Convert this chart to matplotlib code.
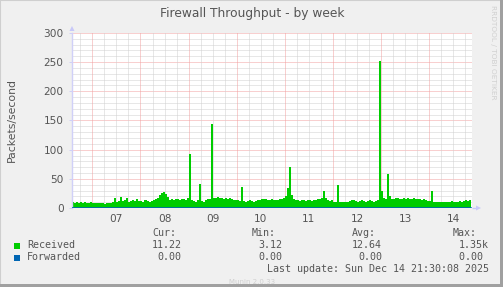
import matplotlib
matplotlib.use("Agg")
import matplotlib.pyplot as plt
import matplotlib.dates as mdates
import pandas as pd
from matplotlib.patches import Rectangle, Polygon

# -----------------------------
# DATA (packets/second, hourly from Dec 6 14:00)
# -----------------------------
received = [
    10, 9, 11, 9, 10, 9, 10, 9, 9, 10,
    # Dec 7
    9, 8, 8, 9, 8, 8, 7, 8, 8, 9, 10, 17, 11, 12, 19, 12, 13, 18, 11, 12, 14, 12, 16, 12,
    # Dec 8
    12, 11, 13, 12, 11, 12, 13, 15, 18, 22, 25, 28, 24, 19, 14, 15, 14, 16, 15, 14, 15, 16, 14, 18,
    # Dec 9
    92, 14, 12, 11, 13, 42, 12, 11, 14, 15, 16, 144, 18, 17, 19, 18, 17, 16, 18, 15, 17, 16, 14, 13,
    # Dec 10
    13, 12, 36, 12, 11, 12, 13, 12, 11, 12, 13, 14, 15, 16, 15, 14, 13, 15, 14, 13, 14, 15, 16, 18,
    # Dec 11
    20, 35, 70, 22, 15, 14, 13, 12, 14, 13, 12, 13, 14, 12, 13, 14, 16, 15, 18, 30, 17, 14, 12, 13,
    # Dec 12
    11, 10, 40, 11, 10, 11, 10, 11, 12, 14, 13, 12, 11, 12, 13, 12, 11, 12, 13, 12, 11, 12, 13, 252,
    # Dec 13
    30, 18, 15, 58, 20, 16, 15, 17, 18, 16, 15, 17, 16, 18, 15, 16, 17, 16, 15, 16, 14, 15, 13, 12,
    # Dec 14
    12, 30, 11, 10, 11, 10, 11, 10, 11, 10, 11, 12, 11, 10, 11, 12, 11, 12, 13, 12, 14, 15,
]
forwarded = [0.0] * len(received)

series_names = ["Received", "Forwarded"]
series_colors = ["#00CC00", "#0066B3"]
cur_vals = ["11.22", "0.00"]
min_vals = ["3.12", "0.00"]
avg_vals = ["12.64", "0.00"]
max_vals = ["1.35k", "0.00"]
day_labels = ["07", "08", "09", "10", "11", "12", "13", "14"]
y_ticks = [0, 50, 100, 150, 200, 250, 300]

W, H = 503, 287
TXT = "#555555"
MONO = "DejaVu Sans Mono"


def fx(x):
    return x / W


def fy(y):
    return (H - y) / H


times = pd.date_range("2025-12-06 14:00", periods=len(received), freq="h")
t_start = pd.Timestamp("2025-12-06 13:51")
t_end = pd.Timestamp("2025-12-14 21:30")

fig = plt.figure(figsize=(W / 100, H / 100), dpi=100, facecolor="#F0F0F0")

# frame around the canvas (munin style)
fig.add_artist(Rectangle((0, 0), 1, 1, transform=fig.transFigure, fill=False,
                         edgecolor="#CFCFCF", lw=1.5))
fig.add_artist(Rectangle((fx(500), 0), fx(3), 1, transform=fig.transFigure,
                         color="#A0A0A0", lw=0))
fig.add_artist(Rectangle((0, 0), 1, 3 / H, transform=fig.transFigure,
                         color="#A0A0A0", lw=0))

ax = fig.add_axes([fx(72), fy(208), fx(472.4 - 72), 175 / H])
ax.set_facecolor("white")

# -----------------------------
# GRID
# -----------------------------
for v in range(0, 301, 10):
    if v % 50 == 0:
        ax.axhline(v, color="#F2A0A0", lw=0.72, ls=(0, (1, 1)), zorder=1)
    else:
        ax.axhline(v, color="#D0D0D0", lw=0.72, ls=(0, (1, 1)), zorder=1)
for t in pd.date_range("2025-12-06 18:00", t_end, freq="6h"):
    if t.hour == 0:
        ax.axvline(t, color="#F2A0A0", lw=0.72, ls=(0, (1, 1)), zorder=1)
    else:
        ax.axvline(t, color="#D0D0D0", lw=0.72, ls=(0, (1, 1)), zorder=1)

# -----------------------------
# SERIES
# -----------------------------
ax.fill_between(times, received, step="post", color=series_colors[0], lw=0, zorder=2)
ax.step(times, forwarded, where="post", color=series_colors[1], lw=1.2, zorder=3)

ax.set_xlim(t_start, t_end)
ax.set_ylim(0, 300)

for s in ["top", "right", "bottom"]:
    ax.spines[s].set_visible(False)
ax.spines["left"].set_color("#D0D0F8")
ax.spines["left"].set_linewidth(1)

ax.set_yticks(y_ticks)
ax.set_yticklabels([str(v) for v in y_ticks])
ax.tick_params(axis="y", length=2, width=0.7, color="#D0D0F8", pad=4,
               labelsize=7.6, labelcolor=TXT)

noons = pd.date_range("2025-12-07 12:00", periods=len(day_labels), freq="D")
ax.set_xticks(noons)
ax.set_xticklabels(day_labels)
ax.tick_params(axis="x", length=0, pad=4, labelsize=7.6, labelcolor=TXT)

# axis arrows
fig.add_artist(Polygon([(fx(69.5), fy(31)), (fx(74.5), fy(31)), (fx(72), fy(26))],
                       closed=True, transform=fig.transFigure, color="#C8C8F8", lw=0))
fig.add_artist(Polygon([(fx(472), fy(208)), (fx(477), fy(208))], closed=False,
                       transform=fig.transFigure, color="#C8C8F8", lw=1))
fig.add_artist(Polygon([(fx(476), fy(205.5)), (fx(476), fy(210.5)), (fx(481), fy(208))],
                       closed=True, transform=fig.transFigure, color="#C8C8F8", lw=0))

# -----------------------------
# TEXTS
# -----------------------------
fig.text(fx(252), fy(13), "Firewall Throughput - by week", ha="center", va="center",
         fontsize=8.8, color=TXT)
fig.text(fx(12), fy(120), "Packets/second", rotation=90, ha="center", va="center",
         fontsize=7.8, color=TXT)
fig.text(fx(493), fy(5), "RRDTOOL / TOBI OETIKER", rotation=270, ha="center", va="top",
         fontsize=5.3, color="#D0D0D0")

# legend
fig.text(fx(152), fy(233.5), "Cur:", ha="left", va="center", fontsize=7.2,
         family=MONO, color=TXT)
fig.text(fx(252), fy(233.5), "Min:", ha="left", va="center", fontsize=7.2,
         family=MONO, color=TXT)
fig.text(fx(352), fy(233.5), "Avg:", ha="left", va="center", fontsize=7.2,
         family=MONO, color=TXT)
fig.text(fx(452.5), fy(233.5), "Max:", ha="left", va="center", fontsize=7.2,
         family=MONO, color=TXT)

rows_y = [245.5, 257.5]
for i, name in enumerate(series_names):
    y = rows_y[i]
    fig.add_artist(Rectangle((fx(14), fy(y + 3)), fx(6), 6 / H, transform=fig.transFigure,
                             color=series_colors[i], lw=0))
    fig.text(fx(27), fy(y), name, ha="left", va="center", fontsize=7.2,
             family=MONO, color=TXT)
    fig.text(fx(181.5), fy(y), cur_vals[i], ha="right", va="center", fontsize=7.2,
             family=MONO, color=TXT)
    fig.text(fx(282), fy(y), min_vals[i], ha="right", va="center", fontsize=7.2,
             family=MONO, color=TXT)
    fig.text(fx(382), fy(y), avg_vals[i], ha="right", va="center", fontsize=7.2,
             family=MONO, color=TXT)
    fig.text(fx(489), fy(y), max_vals[i] if max_vals[i].endswith("k") else max_vals[i] + " ",
             ha="right", va="center", fontsize=7.2, family=MONO, color=TXT)

fig.text(fx(489), fy(269.5), "Last update: Sun Dec 14 21:30:08 2025", ha="right",
         va="center", fontsize=7.2, family=MONO, color=TXT)
fig.text(fx(252), fy(281.5), "Munin 2.0.33", ha="center", va="center", fontsize=5,
         color="#D0D0D0")

plt.savefig("out.png", dpi=100, facecolor=fig.get_facecolor())
